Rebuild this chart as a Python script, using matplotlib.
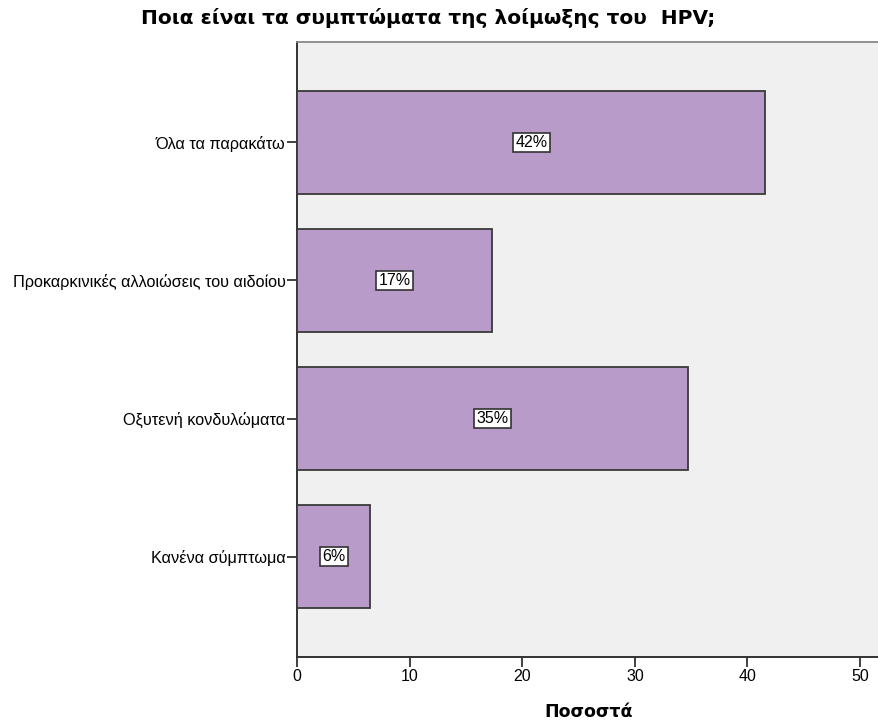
import matplotlib
matplotlib.use("Agg")
import matplotlib.pyplot as plt

categories = ["Όλα τα παρακάτω", "Προκαρκινικές αλλοιώσεις του αιδοίου",
              "Οξυτενή κονδυλώματα", "Κανένα σύμπτωμα"]
values = [41.6, 17.35, 34.7, 6.46]
labels = ["42%", "17%", "35%", "6%"]
xticks = [0, 10, 20, 30, 40, 50]

plt.rcParams['font.family'] = ['Liberation Sans', 'DejaVu Sans']

fig = plt.figure(figsize=(8.79, 7.23), dpi=100)
ax = fig.add_axes([0.3382, 0.0913, 0.6618, 0.8506])
ax.set_facecolor('#f0f0f0')

ypos = list(range(len(categories)))
ax.barh(ypos, values, height=0.746, color='#b89bc9', edgecolor='#3a3a3a',
        linewidth=1.3, zorder=3)
for y, v, lab in zip(ypos, values, labels):
    ax.text(v / 2, y, lab, ha='center', va='center', fontsize=11.5, zorder=4,
            bbox=dict(boxstyle='square,pad=0.15', facecolor='white',
                      edgecolor='#333333', linewidth=1.2))

ax.set_ylim(3.728, -0.728)
ax.set_xlim(0, 51.7)
ax.set_yticks(ypos)
ax.set_yticklabels(categories, fontsize=11.7)
ax.set_xticks(xticks)
ax.set_xticklabels([str(t) for t in xticks], fontsize=11.5)
ax.tick_params(axis='both', length=7, width=1.3, color='#333333', pad=1.5)

for s in ['left', 'bottom']:
    ax.spines[s].set_color('#333333')
    ax.spines[s].set_linewidth(1.4)
ax.spines['top'].set_color('#888888')
ax.spines['top'].set_linewidth(1.3)
ax.spines['right'].set_visible(False)

ax.set_xlabel("Ποσοστά", fontsize=12.5, fontweight='bold', labelpad=14,
              family=['DejaVu Sans'])
fig.text(428 / 879, 1 - 18 / 723, "Ποια είναι τα συμπτώματα της λοίμωξης του  HPV;",
         ha='center', va='center', fontsize=14.5, fontweight='bold',
         family=['DejaVu Sans'])

fig.savefig("out.png", dpi=100)
